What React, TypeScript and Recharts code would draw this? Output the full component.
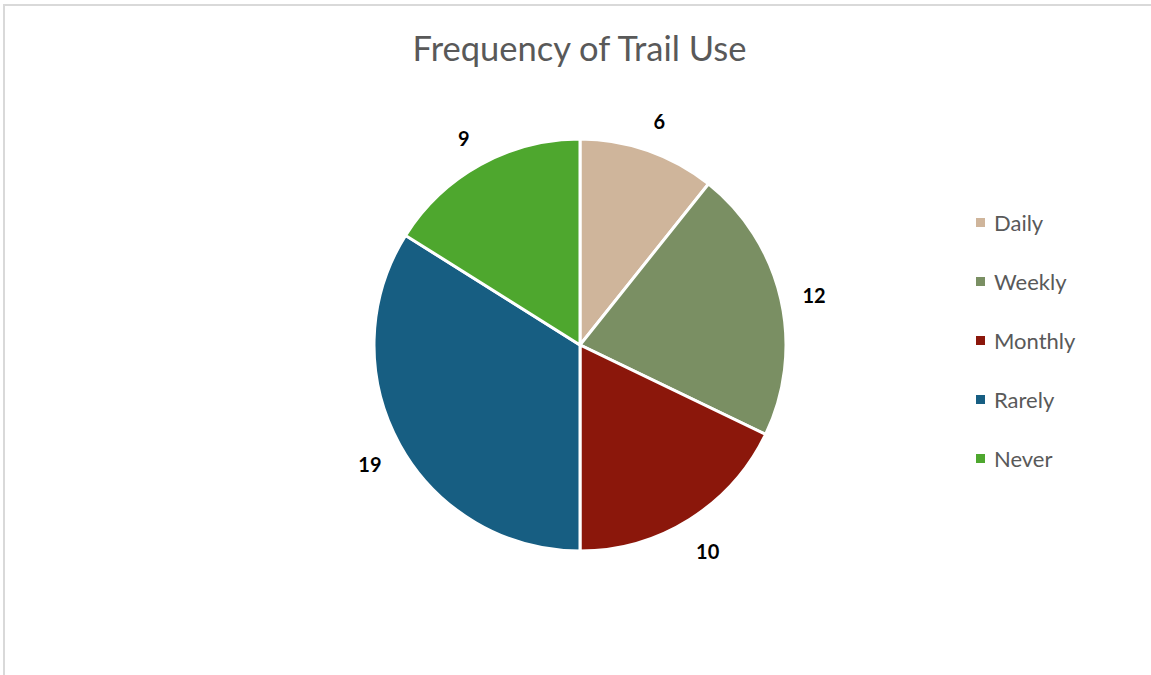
import React from 'react';
import { PieChart, Pie, Cell, Legend } from 'recharts';

const categories = ['Daily', 'Weekly', 'Monthly', 'Rarely', 'Never'];
const counts = [6, 12, 10, 19, 9];
const colors = ['#CFB59B', '#7A8F63', '#8B170B', '#175E82', '#4EA72E'];

const data = categories.map((name, i) => ({ name, value: counts[i] }));

const RAD = Math.PI / 180;
const FONT = 'Lato, "Open Sans", sans-serif';

const renderLabel = (props: any) => {
  const { cx, cy, midAngle, outerRadius, value } = props;
  const r = outerRadius + 34;
  const x = cx + r * Math.cos(-midAngle * RAD);
  const y = cy + r * Math.sin(-midAngle * RAD) + 3;
  return (
    <text
      x={x}
      y={y}
      textAnchor="middle"
      dominantBaseline="central"
      fill="#000000"
      fontSize={20}
      fontWeight={700}
      fontFamily={FONT}
    >
      {value}
    </text>
  );
};

// legend drawn in the original category order (recharts sorts its payload by name)
const renderLegend = () => (
  <div style={{ display: 'flex', flexDirection: 'column' }}>
    {categories.map((name, i) => (
      <div key={name} style={{ display: 'flex', alignItems: 'center', height: 59 }}>
        <span style={{ width: 9, height: 9, background: colors[i], marginRight: 9 }} />
        <span style={{ fontSize: 22, color: '#595959', fontFamily: FONT }}>{name}</span>
      </div>
    ))}
  </div>
);

export default function App() {
  return (
    <div style={{ position: 'absolute', left: 0, top: 0, width: 1151, height: 675, background: '#fff' }}>
      <div
        style={{
          position: 'absolute',
          left: 3,
          top: 4,
          right: -10,
          bottom: -10,
          borderTop: '2px solid #d9d9d9',
          borderLeft: '2px solid #d9d9d9',
        }}
      />
      <div
        style={{
          position: 'absolute',
          left: 0,
          width: 1159,
          top: 27,
          textAlign: 'center',
          fontSize: 34.5,
          color: '#595959',
          fontFamily: FONT,
        }}
      >
        Frequency of Trail Use
      </div>
      <div style={{ position: 'absolute', left: 0, top: 0 }}>
        <PieChart width={1151} height={675}>
          <Pie
            data={data}
            dataKey="value"
            nameKey="name"
            cx={575}
            cy={340}
            outerRadius={206}
            startAngle={90}
            endAngle={-270}
            stroke="#ffffff"
            strokeWidth={3}
            label={renderLabel}
            labelLine={false}
            isAnimationActive={false}
          >
            {data.map((d, i) => (
              <Cell key={d.name} fill={colors[i]} />
            ))}
          </Pie>
          <Legend
            layout="vertical"
            align="right"
            verticalAlign="top"
            content={renderLegend}
            wrapperStyle={{ left: 976, top: 193, width: 170 }}
          />
        </PieChart>
      </div>
    </div>
  );
}
